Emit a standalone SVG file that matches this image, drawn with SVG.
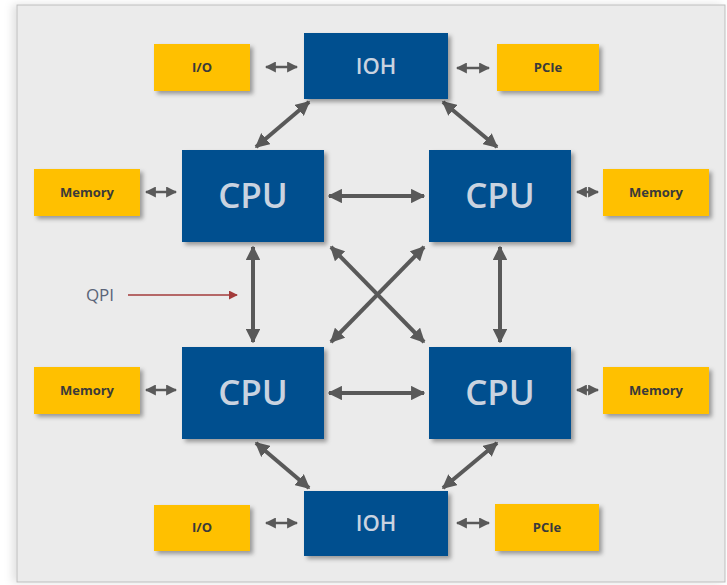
<svg xmlns="http://www.w3.org/2000/svg" width="727" height="585" viewBox="0 0 727 585">
<defs>
<filter id="sh" x="-20%" y="-20%" width="150%" height="150%"><feDropShadow dx="3" dy="3" stdDeviation="2" flood-color="#000" flood-opacity="0.35"/></filter>
<filter id="psh" x="-5%" y="-5%" width="110%" height="110%"><feDropShadow dx="-4" dy="0" stdDeviation="4" flood-color="#000" flood-opacity="0.12"/></filter>
<marker id="ah" viewBox="0 0 10 10" refX="9" refY="5" markerWidth="3.6" markerHeight="3.6" orient="auto-start-reverse"><path d="M0,0 L10,5 L0,10 Z" fill="#595959"/></marker>
<marker id="ahs" viewBox="0 0 10 10" refX="9" refY="5" markerWidth="4.4" markerHeight="4.4" orient="auto-start-reverse"><path d="M0,0 L10,5 L0,10 Z" fill="#595959"/></marker>
<marker id="ar" viewBox="0 0 10 10" refX="9" refY="5" markerWidth="6" markerHeight="6" orient="auto"><path d="M0,0 L10,5 L0,10 Z" fill="#A33B3B"/></marker>
</defs>
<style>
.blue{fill:#00508F;filter:url(#sh)}
.yel{fill:#FFC000;filter:url(#sh)}
.cpu{font-family:"Open Sans","Liberation Sans",sans-serif;font-size:35px;font-weight:600;fill:#C9D3E0;text-anchor:middle}
.ioh{font-family:"Open Sans","Liberation Sans",sans-serif;font-size:22px;font-weight:600;fill:#C9D3E0;text-anchor:middle}
.yt{font-family:"Open Sans","Liberation Sans",sans-serif;font-size:13px;font-weight:bold;fill:#3A3A3A;text-anchor:middle}
.c{stroke:#595959;stroke-width:4;fill:none;marker-start:url(#ah);marker-end:url(#ah)}
.cs{stroke:#595959;stroke-width:2.5;fill:none;marker-start:url(#ahs);marker-end:url(#ahs)}
</style>
<rect x="0" y="0" width="727" height="585" fill="#FFFFFF"/>
<rect x="17" y="5" width="708" height="577" fill="#EBEBEB" stroke="#BDBDBD" stroke-width="1" filter="url(#psh)"/>
<g id="connectors">
<line class="c" x1="329" y1="196" x2="424" y2="196"/>
<line class="c" x1="329" y1="393" x2="424" y2="393"/>
<line class="c" x1="253" y1="247" x2="253" y2="342"/>
<line class="c" x1="500" y1="247" x2="500" y2="342"/>
<line class="c" x1="331" y1="247" x2="424" y2="342"/>
<line class="c" x1="424" y1="247" x2="331" y2="342"/>
<line class="c" x1="309" y1="102" x2="256" y2="147"/>
<line class="c" x1="443" y1="102" x2="497" y2="147"/>
<line class="c" x1="256" y1="443" x2="309" y2="488"/>
<line class="c" x1="497" y1="443" x2="443" y2="488"/>
<line class="cs" x1="266" y1="67" x2="297" y2="67"/>
<line class="cs" x1="457" y1="68" x2="489" y2="68"/>
<line class="cs" x1="146" y1="192" x2="176" y2="192"/>
<line class="cs" x1="577" y1="192" x2="598" y2="192"/>
<line class="cs" x1="146" y1="390" x2="176" y2="390"/>
<line class="cs" x1="577" y1="390" x2="598" y2="390"/>
<line class="cs" x1="266" y1="523" x2="297" y2="523"/>
<line class="cs" x1="457" y1="523" x2="489" y2="523"/>
<line x1="128" y1="295" x2="237" y2="295" stroke="#A33B3B" stroke-width="1.5" marker-end="url(#ar)"/>
</g>
<g id="ioh-top"><rect class="blue" x="304" y="33" width="144" height="66"/><text class="ioh" x="376" y="74">IOH</text></g>
<g id="io-top"><rect class="yel" x="154" y="44" width="96" height="47"/><text class="yt" x="202" y="72">I/O</text></g>
<g id="pcie-top"><rect class="yel" x="497" y="44" width="102" height="47"/><text class="yt" x="548" y="72">PCIe</text></g>
<g id="cpu-tl"><rect class="blue" x="182" y="150" width="142" height="92"/><text class="cpu" x="253" y="208">CPU</text></g>
<g id="cpu-tr"><rect class="blue" x="429" y="150" width="142" height="92"/><text class="cpu" x="500" y="208">CPU</text></g>
<g id="cpu-bl"><rect class="blue" x="182" y="347" width="142" height="92"/><text class="cpu" x="253" y="405">CPU</text></g>
<g id="cpu-br"><rect class="blue" x="429" y="347" width="142" height="92"/><text class="cpu" x="500" y="405">CPU</text></g>
<g id="mem-tl"><rect class="yel" x="34" y="169" width="106" height="47"/><text class="yt" x="87" y="197">Memory</text></g>
<g id="mem-tr"><rect class="yel" x="603" y="169" width="106" height="47"/><text class="yt" x="656" y="197">Memory</text></g>
<g id="mem-bl"><rect class="yel" x="34" y="367" width="106" height="47"/><text class="yt" x="87" y="395">Memory</text></g>
<g id="mem-br"><rect class="yel" x="603" y="367" width="106" height="47"/><text class="yt" x="656" y="395">Memory</text></g>
<g id="ioh-bot"><rect class="blue" x="304" y="491" width="144" height="65"/><text class="ioh" x="376" y="531">IOH</text></g>
<g id="io-bot"><rect class="yel" x="154" y="505" width="96" height="46"/><text class="yt" x="202" y="532">I/O</text></g>
<g id="pcie-bot"><rect class="yel" x="495" y="504" width="104" height="47"/><text class="yt" x="547" y="532">PCIe</text></g>
<g id="qpi"><text x="100" y="301" font-family="Open Sans,Liberation Sans,sans-serif" font-size="17" fill="#5A6478" text-anchor="middle">QPI</text></g>
</svg>
